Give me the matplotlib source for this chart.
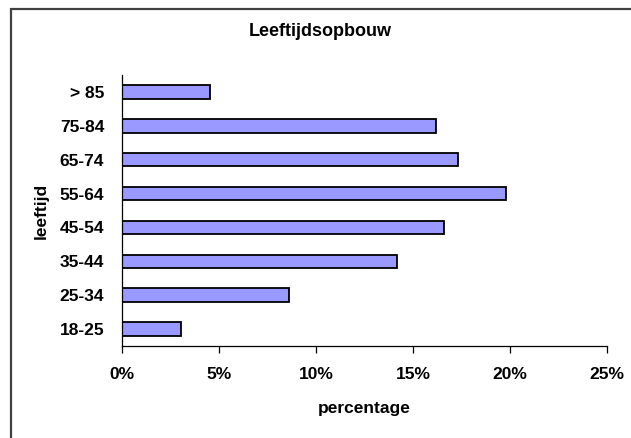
import numpy as np
import matplotlib.pyplot as plt
from matplotlib.patches import Rectangle
from matplotlib.ticker import PercentFormatter

plt.rcParams['font.family'] = ['Liberation Sans', 'DejaVu Sans']
plt.rcParams['font.weight'] = 'bold'

# data
leeftijd = ['18-25', '25-34', '35-44', '45-54', '55-64', '65-74', '75-84', '> 85']
percentage = [3.05, 8.6, 14.2, 16.6, 19.8, 17.3, 16.2, 4.55]
xticks = [0, 5, 10, 15, 20, 25]

W, H = 631, 438
fig = plt.figure(figsize=(W / 100, H / 100), dpi=100)

# outer chart frame (right and bottom fall outside the picture)
fig.patches.append(Rectangle((10.5 / W, -0.05), 1.2, 1.05 - 8.5 / H,
                             transform=fig.transFigure, fill=False,
                             edgecolor='#404040', lw=1.6))

ax = fig.add_axes([122.3 / W, 1 - 346 / H, (606.7 - 122.3) / W, (346 - 75) / H])

y = np.arange(len(leeftijd))
ax.barh(y, percentage, height=0.4, color='#9999ff', edgecolor='black', lw=1.3)

ax.set_xlim(0, 25)
ax.set_ylim(-0.5, len(leeftijd) - 0.5)
ax.set_xticks(xticks)
ax.xaxis.set_major_formatter(PercentFormatter(decimals=0))
ax.set_yticks(y)
ax.set_yticklabels(leeftijd)

for s in ['top', 'right']:
    ax.spines[s].set_visible(False)
for s in ['left', 'bottom']:
    ax.spines[s].set_linewidth(0.9)

ax.tick_params(axis='x', length=5, width=0.9, pad=10, labelsize=12.5)
ax.tick_params(axis='y', length=0, pad=13, labelsize=12.5)

ax.set_xlabel('percentage', fontsize=12.5, fontweight='bold', labelpad=14)
ax.set_ylabel('leeftijd', fontsize=12.5, fontweight='bold', labelpad=8)

fig.text(0.5 + 0.5 * 10.5 / W, 1 - 31 / H, 'Leeftijdsopbouw', ha='center', va='center',
         fontsize=13, fontweight='bold')

fig.savefig('out.png', dpi=100)
